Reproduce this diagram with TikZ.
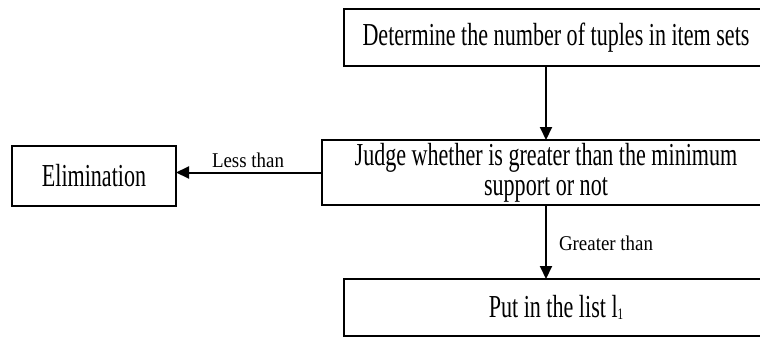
\documentclass[tikz,border=0pt]{standalone}
\usepackage{fontspec}
\setmainfont{Liberation Serif}[FakeStretch=0.69]
\newfontfamily\lblfont{Liberation Serif}[FakeStretch=0.9]
\usetikzlibrary{arrows.meta}

\tikzset{
  stepbox/.style={draw, line width=2pt, inner sep=0pt, outer sep=0pt,
    align=center, font=\fontsize{32}{30}\selectfont},
  flow/.style={line width=2pt, -{Triangle[length=13pt,width=12pt]}},
  edgelabel/.style={inner sep=0pt, font=\lblfont\fontsize{21}{24}\selectfont}
}

\begin{document}
\begin{tikzpicture}[x=1pt,y=-1pt]
  \useasboundingbox (0,0) rectangle (760,338);
  \clip (0,0) rectangle (760,338);
  \fill[white] (0,0) rectangle (760,338);

  % process boxes (right-hand sides run past the page edge)
  \node[stepbox, minimum width=424pt, minimum height=57pt] (count) at (556,37.5)
    {Determine the number of tuples in item sets};
  \node[stepbox, minimum width=448pt, minimum height=65pt] (judge) at (546,172.5)
    {Judge whether is greater than the minimum\\support or not};
  \node[stepbox, minimum width=164pt, minimum height=60pt] (elim) at (94,176)
    {Elimination};
  \node[stepbox, minimum width=424pt, minimum height=57pt] (put) at (556,307.5)
    {Put in the list l\raisebox{-1.5pt}{\fontsize{16}{16}\selectfont 1}};

  % connectors
  \draw[flow] (judge.north |- count.south) -- (judge.north);
  \draw[flow] (judge.west) -- (judge.west -| elim.east);
  \draw[flow] (judge.south) -- (judge.south |- put.north);

  % connector labels
  \node[edgelabel] (lessl) at (248,160) {Less than};
  \node[edgelabel] (greatl) at (606,243) {Greater than};
\end{tikzpicture}
\end{document}
